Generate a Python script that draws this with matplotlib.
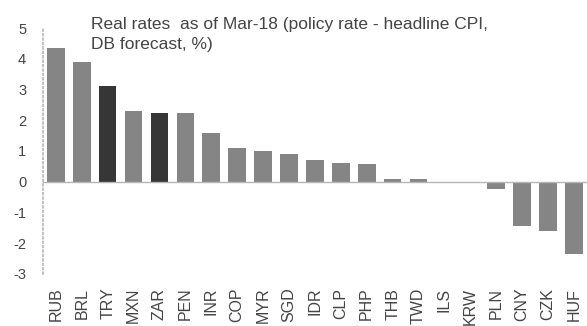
import matplotlib
matplotlib.use("Agg")
import matplotlib.pyplot as plt

currencies = ["RUB", "BRL", "TRY", "MXN", "ZAR", "PEN", "INR", "COP", "MYR", "SGD",
              "IDR", "CLP", "PHP", "THB", "TWD", "ILS", "KRW", "PLN", "CNY", "CZK", "HUF"]
real_rates = [4.35, 3.9, 3.1, 2.3, 2.25, 2.25, 1.6, 1.1, 1.0, 0.9,
              0.7, 0.6, 0.57, 0.08, 0.08, 0.0, -0.03, -0.25, -1.45, -1.6, -2.35]
highlight = ["TRY", "ZAR"]
yticks = [-3, -2, -1, 0, 1, 2, 3, 4, 5]
title = "Real rates  as of Mar-18 (policy rate - headline CPI,\nDB forecast, %)"

plt.rcParams["font.family"] = ["Liberation Sans", "DejaVu Sans"]

fig = plt.figure(figsize=(5.87, 3.26), dpi=100)
ax = fig.add_axes([0.073, 0.16, 0.927, 0.754])

colors = ["#363636" if c in highlight else "#858585" for c in currencies]
x = list(range(len(currencies)))
ax.bar(x, real_rates, width=0.68, color=colors, edgecolor="none", zorder=2)

ax.axhline(0, color="#b5b5b5", lw=1.0, zorder=3)
ax.set_ylim(-3, 5)
ax.set_yticks(yticks)
ax.set_yticklabels([str(v) for v in yticks], fontsize=10.5, color="#444444")
spacing = 25.9
ax.set_xlim(-13 / spacing, -13 / spacing + 544 / spacing)
ax.set_xticks(x)
ax.set_xticklabels(currencies, rotation=90, fontsize=11.5, color="#444444")
ax.tick_params(axis="x", length=0, pad=10)
ax.tick_params(axis="y", length=0, pad=12)
for s in ["top", "right", "bottom"]:
    ax.spines[s].set_visible(False)
ax.spines["left"].set_color("#b5b5b5")
ax.spines["left"].set_linestyle(":")
ax.spines["left"].set_linewidth(1.2)

fig.text(91 / 587, 1 - 17 / 326, title, fontsize=12.5, color="#444444",
         va="top", ha="left", linespacing=1.4)

fig.savefig("out.png", dpi=100)
